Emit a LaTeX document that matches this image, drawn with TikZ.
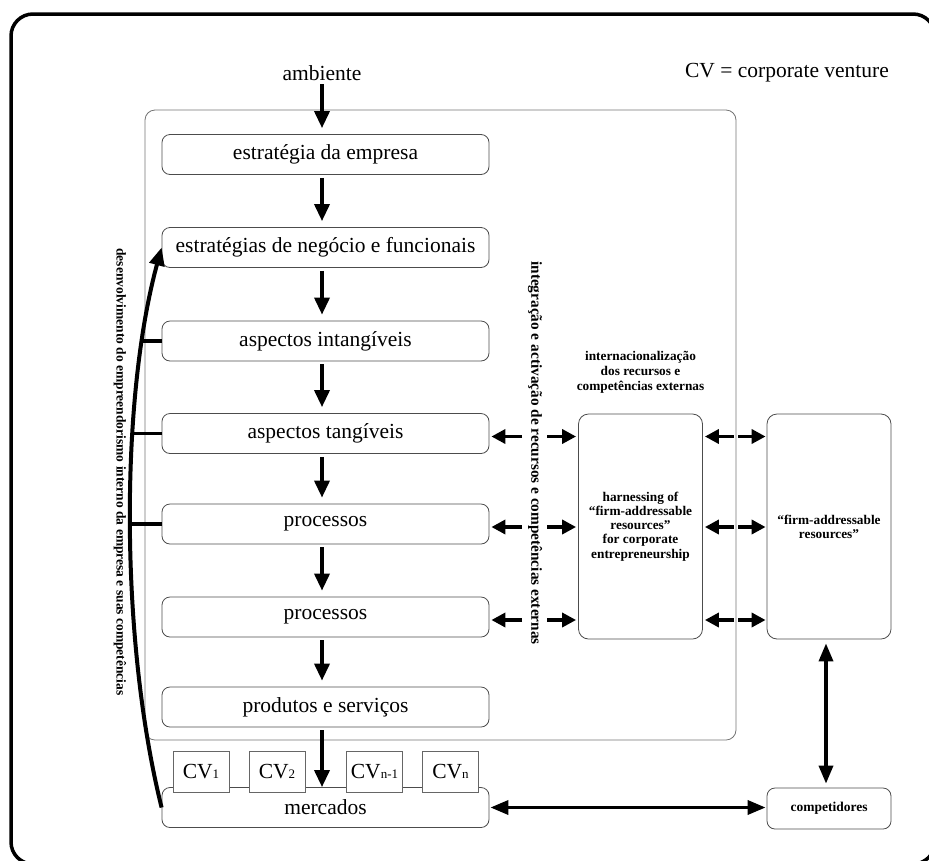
\documentclass[tikz,border=0pt]{standalone}
\usepackage{fontspec}
\setmainfont{Liberation Serif}
\usetikzlibrary{arrows.meta,calc}

\begin{document}
\begin{tikzpicture}[x=1pt,y=-1pt,
  big/.style={font=\fontsize{21.5}{24}\selectfont},
  box/.style={draw=black!70, line width=0.8pt, rounded corners=8pt,
    minimum width=327pt, minimum height=40pt, inner sep=0pt, big},
  sidebox/.style={draw=black!70, line width=0.8pt, rounded corners=10pt,
    minimum width=124pt, minimum height=225pt, inner sep=0pt, align=center,
    font=\bfseries\fontsize{13.3}{14.2}\selectfont},
  cvbox/.style={draw=black!60, line width=0.7pt, fill=white,
    minimum width=56pt, minimum height=41pt, inner sep=0pt, big},
  down/.style={line width=3.5pt, -{Triangle[width=15pt,length=17pt]}},
  harr/.style={line width=3.5pt, -{Triangle[width=14pt,length=14pt]}},
  dbl/.style={line width=3.5pt,
    {Triangle[width=14pt,length=18pt]}-{Triangle[width=14pt,length=18pt]}},
  stub/.style={line width=3.5pt},
]
\useasboundingbox (0,0) rectangle (929,860);

% outer frame
\draw[line width=3.5pt, rounded corners=22pt] (11,14) rectangle (935,864);

% firm container
\node[draw=black!55, line width=0.8pt, rounded corners=10pt,
  minimum width=591pt, minimum height=630pt, inner sep=0pt] (core) at (440.5,425) {};

% header texts
\node[big] (amb) at (322,73) {ambiente};
\node[big] (cvkey) at (787,73) {CV = corporate venture};

% internal chain
\node[box] (b1) at (325.5,154.5) {estratégia da empresa};
\node[box] (b2) at (325.5,247.5) {estratégias de negócio e funcionais};
\node[box] (b3) at (325.5,341) {aspectos intangíveis};
\node[box] (b4) at (325.5,433.5) {aspectos tangíveis};
\node[box] (b5) at (325.5,524) {processos};
\node[box] (b6) at (325.5,617) {processos};
\node[box] (b7) at (325.5,707) {produtos e serviços};
\node[box] (merc) at (325.5,807.5) {mercados};

% corporate ventures sitting on the market box
\newcommand{\cvsub}[1]{CV{\fontsize{13}{13}\selectfont #1}}
\node[cvbox] (cv1) at (201,771.5) {\cvsub{1}};
\node[cvbox] (cv2) at (277,771.5) {\cvsub{2}};
\node[cvbox] (cv3) at (374.5,771.5) {\cvsub{n-1}};
\node[cvbox] (cv4) at (450.5,771.5) {\cvsub{n}};

% external side
\node[align=center, font=\bfseries\fontsize{13.3}{15}\selectfont] (intl) at (640.5,372)
  {internacionalização\\dos recursos e\\competências externas};
\node[sidebox] (harn) at (640.5,526.5)
  {harnessing of\\“firm-addressable\\resources”\\for corporate\\entrepreneurship};
\node[sidebox] (ext) at (829,526.5) {“firm-addressable\\resources”};
\node[draw=black!70, line width=0.8pt, rounded corners=8pt, minimum width=124pt,
  minimum height=41pt, inner sep=0pt, font=\bfseries\fontsize{13.5}{15}\selectfont]
  (comp) at (829,808.5) {competidores};

% vertical labels
\node[rotate=-90, font=\bfseries\fontsize{13.5}{16}\selectfont] (devtxt) at (120,472)
  {desenvolvimento do empreendorismo interno da empresa e suas competências};
\node[rotate=-90, font=\bfseries\fontsize{15.3}{17}\selectfont] (inttxt) at (535,453)
  {integração e activação de recursos e competências externas};

% downward flow
\coordinate (col) at (322,0);
\draw[down, shorten >=6pt] (amb.south) -- (b1.north -| amb);
\foreach \a/\b in {b1/b2,b2/b3,b3/b4,b4/b5,b5/b6,b6/b7}
  \draw[down, shorten <=3pt, shorten >=6pt] (\a.south -| col) -- (\b.north -| col);
\draw[down, shorten <=3pt] (b7.south -| col) -- (merc.north -| col);

% exchanges with external resources
\coordinate (lm) at (522,0);
\coordinate (rm) at (547,0);
\coordinate (gl) at (734,0);
\coordinate (gr) at (738,0);
\foreach \b in {b4,b5,b6}{
  \draw[harr, shorten >=2pt] ([yshift=-3pt]\b.east -| lm) -- ([yshift=-3pt]\b.east);
  \draw[harr, shorten >=2pt] ([yshift=-3pt]\b.east -| rm) -- ([yshift=-3pt]\b.east -| harn.west);
  \draw[harr, shorten >=2pt] ([yshift=-3pt]\b.east -| gl) -- ([yshift=-3pt]\b.east -| harn.east);
  \draw[harr, shorten >=1pt] ([yshift=-3pt]\b.east -| gr) -- ([yshift=-3pt]\b.east -| ext.west);
}

% competitors
\draw[dbl, shorten <=4pt, shorten >=4pt] ([xshift=-3pt]ext.south) -- ([xshift=-3pt]comp.north);
\draw[dbl, shorten <=1pt, shorten >=1pt] (merc.east) -- (merc.east -| comp.west);

% internal entrepreneurship feedback loop
\draw[line width=4pt, -{Triangle[width=15pt,length=18pt]}]
  (merc.west) .. controls (120,640) and (120,400) .. (b2.west);
\draw[stub] (b3.west) -- ++(-21,0);
\draw[stub] (b4.west) -- ++(-31,0);
\draw[stub] (b5.west) -- ++(-33,0);
\end{tikzpicture}
\end{document}
